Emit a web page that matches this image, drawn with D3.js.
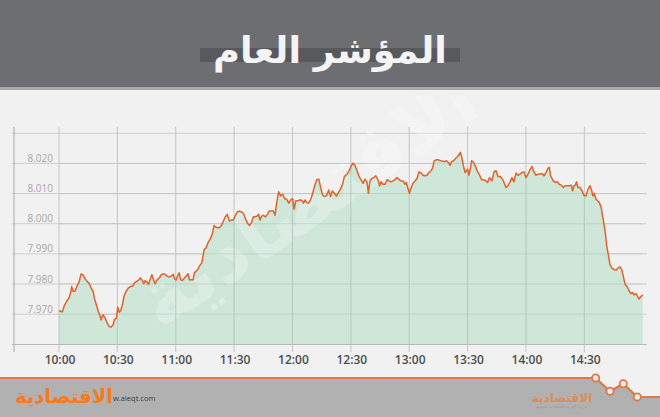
<!DOCTYPE html>
<html><head><meta charset="utf-8">
<script src="https://cdn.jsdelivr.net/npm/d3@7"></script>
<style>html,body{margin:0;padding:0;background:#f1f1f1;}svg{display:block;}</style>
</head><body>
<svg id="c" width="660" height="417"></svg>
<script>
const title = "المؤشر العام";
const brand = "الاقتصادية";
const brandSub = "جريدة العرب الاقتصادية الدولية";
const site = "w.aleqt.com";
const xTickMinutes = [0,30,60,90,120,150,180,210,240,270];
const xTickLabels = ["10:00","10:30","11:00","11:30","12:00","12:30","13:00","13:30","14:00","14:30"];
const yTickValues = [7970,7980,7990,8000,8010,8020];
const yTickLabels = ["7.970","7.980","7.990","8.000","8.010","8.020"];
// minutes after 10:00
const minutes = [0,1.7,2.7,3.9,5.1,6.2,6.5,7.2,8.2,9.2,10.3,11.3,12.3,13.4,14.4,15.4,16.5,17.5,18.2,19.2,20.2,21.1,21.6,22.6,23.7,24.7,25.7,26.7,27.8,28.5,29.5,30.2,31,31.7,32.6,33.4,34.5,35.7,37,38,38.7,39.9,40.8,41.8,42.9,43.6,44.2,45.3,46,46.8,47.7,48.7,49.4,50.4,51.5,52.5,53.5,54.6,55.6,56.6,57.7,58.7,59.4,60.2,60.9,61.8,62.5,63.5,64.5,65.6,66.3,67,68,68.9,69.6,70.4,71.5,72.1,
73.4,74.6,75.6,76.6,77.6,78.7,79.7,80.4,81.4,82.4,83.5,84.5,85.5,86.5,87.6,88.6,89.6,90.7,91.7,92.7,93.7,94.8,95.8,96.8,97.9,98.9,99.9,100.9,102,102.6,103.3,104,104.7,105.4,106.1,107.1,108.1,109.2,110.2,111,111.9,112.9,114,115,116,117,118.1,119.1,120.1,120.8,121.7,122.7,123.7,124.7,125.6,126.5,127.3,128.3,129.4,130.4,131.4,132.5,133.5,134.5,135.5,136.6,137.6,138.6,139.6,140.5,141.5,142.6,143.6,144.6,145.6,146.7,
148,149.1,150.1,151.1,152.1,153.2,154.2,155.2,156.3,157.3,158.3,159,159.8,160.7,161.7,162.8,163.8,164.8,165.5,166.5,167.6,168.6,169.6,170.6,171.7,172.7,173.7,174.8,175.8,176.8,177.8,178.5,179.2,180.1,180.9,181.9,183,184,185,186.1,187.1,188.1,189.1,190.2,191.2,191.9,192.9,193.9,195,196,197,198,199.1,200.1,201,201.8,202.8,203.9,204.9,206.3,207,207.8,208.7,209.4,210,210.7,211.4,212.1,213.1,214.2,215.2,216.2,217.2,218.3,219.3,220.3,221.3,
222.5,223.6,224.6,225.6,226.6,227.7,228.7,229.7,230.8,231.8,232.8,233.8,234.9,235.9,236.9,237.9,239,240,241,242.1,243.1,244.1,245.1,246.2,247.2,248.2,249.3,250.3,251.3,252,252.7,253.4,254,255.1,256.1,257.1,258.2,259.2,260.2,261.2,262.3,263.3,264,264.7,265.4,266,266.7,267.8,268.8,269.8,270.8,271.9,272.9,273.7,274.4,275.1,276,276.8,277.7,278.7,279.7,280.8,281.5,282.3,283.2,284.2,285.2,286.3,287.3,288.3,289.3,290,291,292.1,293.1,294.1,294.8,295.5,296.5,297.2,298.1,298.9,300];
const values = [7971.1,7970.8,7972.8,7974.2,7975.3,7977.6,7979.2,7977.6,7977.6,7979.2,7980.6,7983.3,7983.1,7981.7,7980.9,7980.3,7978.7,7977.6,7975.3,7973.1,7970.9,7969.4,7968.1,7969.8,7968.7,7967.2,7965.9,7965.7,7966.4,7968.3,7968.7,7972.3,7970.6,7971.2,7973.1,7975.9,7977.6,7978.7,7979.2,7979.4,7980.3,7980.9,7981.2,7982.0,7981.1,7980.1,7981.1,7980.6,7979.8,7981.4,7983.1,7981.2,7980.1,7981.4,7982.0,7983.0,7983.4,7983.2,7982.6,7982.3,7982.6,7983.2,7981.7,7981.4,7982.6,7983.7,7981.4,7981.2,7982.0,7982.8,7983.4,7981.4,7981.4,7981.4,7983.7,7984.2,7985.0,7985.9,
7987.0,7991.4,7992.0,7993.7,7994.8,7996.4,7999.4,7999.0,7998.7,7998.7,7999.4,8000.9,8002.3,8003.1,8000.9,8001.2,8001.2,8002.8,8003.9,8004.2,8003.9,8003.4,8001.7,8000.3,7999.4,8000.3,8002.3,8002.3,8002.6,8003.2,8001.2,8002.3,8002.8,8002.6,8002.3,8003.1,8004.2,8004.2,8004.2,8002.8,8007.0,8010.6,8009.2,8009.8,8008.3,8008.1,8006.8,8007.9,8008.3,8004.8,8007.6,8007.6,8007.9,8007.8,8006.8,8007.9,8007.0,8006.8,8008.1,8010.1,8012.6,8014.6,8014.8,8012.0,8009.4,8009.0,8009.4,8011.2,8009.0,8010.9,8010.1,8009.2,8010.3,8011.4,8012.8,8015.7,
8016.4,8017.6,8019.0,8020.1,8019.4,8017.6,8015.7,8014.6,8013.4,8014.8,8013.9,8010.1,8014.2,8015.0,8015.3,8015.9,8014.8,8012.6,8013.9,8013.1,8013.1,8014.6,8014.2,8013.9,8014.2,8014.6,8015.3,8014.6,8014.2,8014.2,8013.1,8013.7,8012.0,8010.1,8011.7,8013.4,8014.2,8015.0,8017.2,8016.8,8016.1,8015.9,8016.1,8017.0,8017.6,8018.3,8020.9,8021.2,8021.2,8020.9,8020.8,8020.6,8020.9,8020.3,8019.4,8020.6,8020.9,8021.7,8022.3,8023.7,8022.0,8019.4,8017.0,8017.6,8018.1,8016.1,8018.3,8020.9,8020.3,8018.7,8017.2,8016.1,8014.6,8014.6,8014.2,8013.7,8015.3,
8014.2,8017.2,8017.6,8015.7,8015.7,8015.0,8013.7,8012.0,8012.6,8013.9,8015.3,8013.9,8016.8,8016.1,8016.4,8017.0,8017.2,8015.3,8016.4,8017.9,8019.0,8017.2,8016.1,8016.4,8016.4,8016.7,8015.9,8017.0,8018.3,8018.7,8015.9,8015.0,8014.2,8013.7,8013.9,8013.1,8012.8,8012.0,8012.6,8012.6,8012.6,8012.8,8010.9,8012.6,8012.8,8013.9,8012.0,8012.0,8010.9,8009.4,8009.2,8011.4,8012.6,8011.2,8009.2,8010.1,8008.1,8007.6,8007.0,8005.3,8001.4,7997.0,7992.6,7989.8,7986.4,7985.3,7984.8,7984.6,7985.3,7985.7,7984.6,7982.6,7979.8,7979.0,7977.6,7976.8,7977.2,7976.4,7976.8,7976.1,7975.0,7975.7,7976.4];

const data = minutes.map((m,i)=>({m, v: values[i]}));
const svg = d3.select("#c");

const x = d3.scaleLinear().domain([0,300]).range([59,642.7]);
const y = d3.scaleLinear().domain([7960,8030]).range([344.3,133.3]);

function fit(sel, w){
  const bb = sel.node().getBBox();
  const fs = parseFloat(sel.attr("font-size"));
  sel.attr("font-size", fs*w/bb.width);
}

const defs = svg.append("defs");
defs.append("clipPath").attr("id","plotclip").append("rect")
  .attr("x",0).attr("y",95).attr("width",660).attr("height",250);

// background
svg.append("rect").attr("width",660).attr("height",417).attr("fill","#f1f1f1");
// header
svg.append("rect").attr("x",0).attr("y",0).attr("width",660).attr("height",87).attr("fill","#6d6e72");
svg.append("rect").attr("x",0).attr("y",87).attr("width",660).attr("height",3).attr("fill","#a9a9aa");
svg.append("rect").attr("x",200).attr("y",48).attr("width",260).attr("height",14).attr("fill","#58595d");
const t = svg.append("text").text(title).attr("x",330).attr("y",63)
  .attr("text-anchor","middle").attr("font-family","DejaVu Sans").attr("font-weight","bold")
  .attr("font-size",36).attr("fill","#f4f4f4");
fit(t,234);

// grid
svg.selectAll(".hg").data(yTickValues.concat([8030])).enter().append("line")
  .attr("x1",12).attr("x2",646.7).attr("y1",d=>y(d)).attr("y2",d=>y(d))
  .attr("stroke","#cfcfcf").attr("stroke-width",1);

// area
const area = d3.area().x(d=>x(d.m)).y0(y(7960)).y1(d=>y(d.v));
svg.append("path").datum(data).attr("d",area).attr("fill","#cbe6d6").attr("opacity",0.95);

// watermark (over fill, clipped to plot)
svg.append("g").attr("clip-path","url(#plotclip)")
  .append("text").text(brand).attr("transform","translate(322,222) rotate(-34)")
  .attr("text-anchor","middle").attr("font-family","DejaVu Sans").attr("font-weight","bold")
  .attr("font-size",78).attr("fill","#ffffff").attr("opacity",0.28);

// vertical grid
svg.selectAll(".vg").data(xTickMinutes).enter().append("line")
  .attr("x1",d=>x(d)).attr("x2",d=>x(d)).attr("y1",127).attr("y2",352)
  .attr("stroke","#b9bdbb").attr("stroke-width",1).attr("opacity",0.8);
svg.selectAll(".hg2").data(yTickValues).enter().append("line")
  .attr("x1",x(0)).attr("x2",642.7).attr("y1",d=>y(d)).attr("y2",d=>y(d))
  .attr("stroke","#b5c9bd").attr("stroke-width",1).attr("opacity",0.6);

const line = d3.line().x(d=>x(d.m)).y(d=>y(d.v));
svg.append("path").datum(data).attr("d",line).attr("fill","none")
  .attr("stroke","#e0622c").attr("stroke-width",1.5).attr("stroke-linejoin","round");

// axes
svg.append("line").attr("x1",14).attr("x2",14).attr("y1",127).attr("y2",352).attr("stroke","#a8a8a8");
svg.append("line").attr("x1",12).attr("x2",646.7).attr("y1",344.5).attr("y2",344.5).attr("stroke","#b8b8b8");

// y labels
svg.selectAll(".yl").data(yTickValues).enter().append("text")
  .text((d,i)=>yTickLabels[i]).attr("x",53).attr("y",d=>y(d)-1.5)
  .attr("text-anchor","end").attr("font-family","Open Sans").attr("font-size",10)
  .attr("fill","#a8a8a8");

// x labels
svg.selectAll(".xl").data(xTickMinutes).enter().append("text")
  .text((d,i)=>xTickLabels[i]).attr("x",d=>x(d)+1).attr("y",364)
  .attr("text-anchor","middle").attr("font-family","Open Sans").attr("font-weight",600)
  .attr("font-size",12).attr("fill","#4d4d4d");

// footer
const fpts = [[0,378],[595.7,378],[610,391.3],[623.3,383.7],[637.3,397],[660,397]];
svg.append("path").attr("d","M"+fpts.map(p=>p.join(",")).join("L")+"L660,417L0,417Z").attr("fill","#b1b1b1");
svg.append("path").attr("d","M"+fpts.map(p=>p.join(",")).join("L")).attr("fill","none")
  .attr("stroke","#de7a48").attr("stroke-width",2.2);
svg.selectAll(".fc").data(fpts.slice(1,5)).enter().append("circle")
  .attr("cx",d=>d[0]).attr("cy",d=>d[1]).attr("r",3.6)
  .attr("fill","#f3ece6").attr("stroke","#de7a48").attr("stroke-width",1.8);

const lb = svg.append("text").text(brand).attr("x",64).attr("y",403)
  .attr("text-anchor","middle").attr("font-family","DejaVu Sans").attr("font-weight","bold")
  .attr("font-size",22).attr("fill","#f47b20");
fit(lb,98);
svg.append("text").text(site).attr("x",113).attr("y",401).attr("font-family","Open Sans")
  .attr("font-size",7.5).attr("fill","#3c3c3c");

const rb = svg.append("text").text(brand).attr("x",562).attr("y",402)
  .attr("text-anchor","middle").attr("font-family","DejaVu Sans").attr("font-weight","bold")
  .attr("font-size",16).attr("fill","#e08a55");
fit(rb,61);
svg.append("text").text(brandSub).attr("x",562).attr("y",408)
  .attr("text-anchor","middle").attr("font-family","DejaVu Sans")
  .attr("font-size",4).attr("fill","#c58a66");
</script>
</body></html>
